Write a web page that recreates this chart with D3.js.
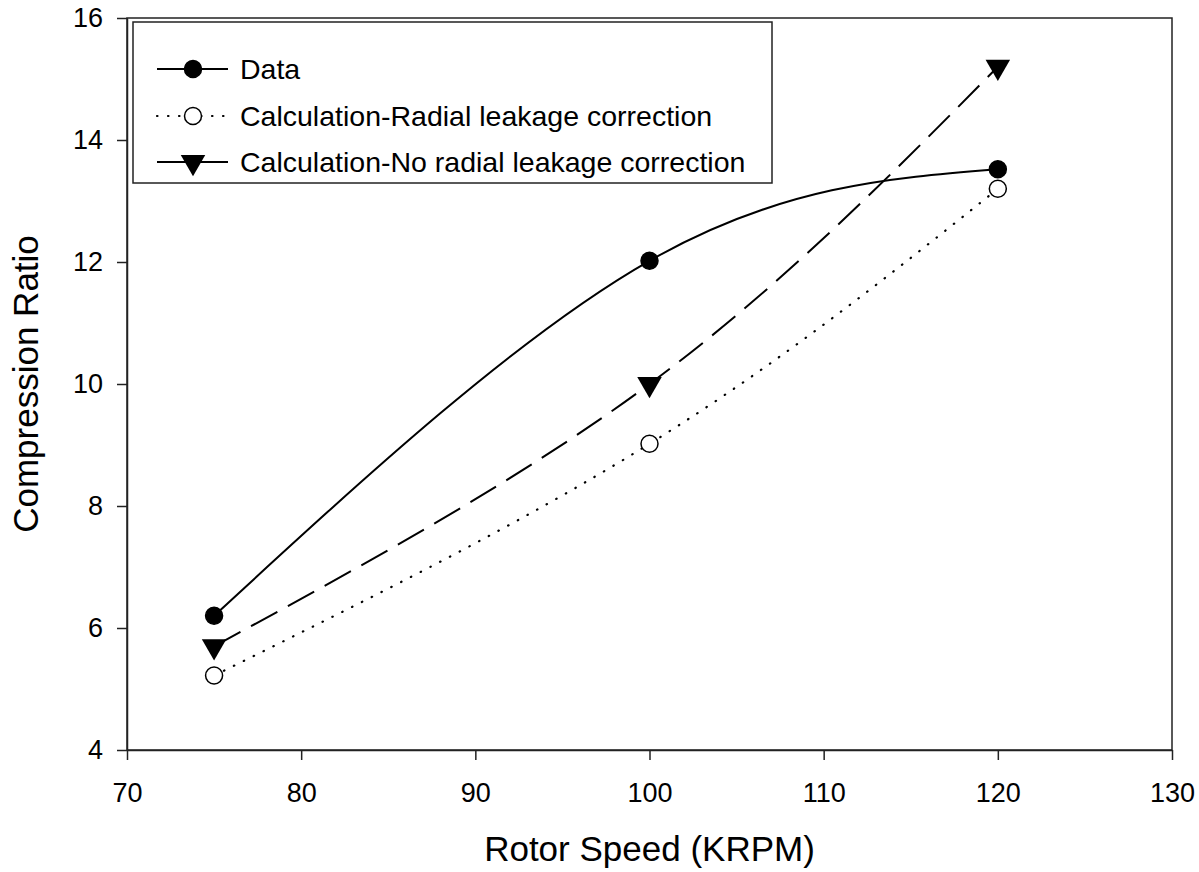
<!DOCTYPE html>
<html>
<head>
<meta charset="utf-8">
<script src="https://cdn.jsdelivr.net/npm/d3@7"></script>
<style>
  body { margin: 0; background: #fff; }
  text { font-family: "Liberation Sans", Arial, sans-serif; }
</style>
</head>
<body>
<svg id="chart"></svg>
<script>
// rotor speed (KRPM)
const speeds = [75, 100, 120];
// compression ratio series
const dataVals = [6.2, 12.02, 13.52];
const radialVals = [5.22, 9.02, 13.2];
const noRadialVals = [5.7, 10.0, 15.2];

const xTicks = [70, 80, 90, 100, 110, 120, 130];
const yTicks = [4, 6, 8, 10, 12, 14, 16];

const legendLabels = [
  "Data",
  "Calculation-Radial leakage correction",
  "Calculation-No radial leakage correction"
];

const W = 1199, H = 872;
const m = {left: 127, right: 1172, top: 18, bottom: 750};

const svg = d3.select("#chart")
  .attr("width", W)
  .attr("height", H)
  .attr("viewBox", [0, 0, W, H]);

const x = d3.scaleLinear().domain([70, 130]).range([m.left, m.right]);
const y = d3.scaleLinear().domain([4, 16]).range([m.bottom, m.top]);

// frame
svg.append("rect")
  .attr("x", m.left).attr("y", m.top)
  .attr("width", m.right - m.left).attr("height", m.bottom - m.top)
  .attr("fill", "none").attr("stroke", "#222").attr("stroke-width", 1.5);

const xAxis = svg.append("g")
  .attr("transform", `translate(0,${m.bottom})`)
  .call(d3.axisBottom(x).tickValues(xTicks).tickSize(10).tickPadding(23).tickSizeOuter(0));
const yAxis = svg.append("g")
  .attr("transform", `translate(${m.left},0)`)
  .call(d3.axisLeft(y).tickValues(yTicks).tickSize(10).tickPadding(14).tickSizeOuter(0));

[xAxis, yAxis].forEach(a => {
  a.select(".domain").attr("stroke", "#222").attr("stroke-width", 1.5);
  a.selectAll(".tick line").attr("stroke", "#222").attr("stroke-width", 1.5);
  a.selectAll(".tick text").attr("font-size", 27).attr("fill", "#000")
    .style("font-family", "'Liberation Sans', Arial, sans-serif");
});

// axis titles
svg.append("text")
  .attr("x", (m.left + m.right) / 2).attr("y", 861)
  .attr("text-anchor", "middle").attr("font-size", 35)
  .text("Rotor Speed (KRPM)");
svg.append("text")
  .attr("transform", `translate(38,${(m.top + m.bottom) / 2}) rotate(-90)`)
  .attr("text-anchor", "middle").attr("font-size", 35)
  .text("Compression Ratio");

const series = [
  {vals: dataVals, dash: null, marker: "filled"},
  {vals: radialVals, dash: "0.5,10.5", marker: "open"},
  {vals: noRadialVals, dash: "30,12", marker: "tri"}
];

const line = d3.line()
  .x((d, i) => x(speeds[i]))
  .y(d => y(d))
  .curve(d3.curveNatural);

const tri = d3.symbol().type(d3.symbolTriangle).size(260);

function drawMarker(g, kind, cx, cy) {
  if (kind === "tri") {
    g.append("path").attr("d", tri())
      .attr("transform", `translate(${cx},${cy}) rotate(180)`)
      .attr("fill", "#000");
  } else {
    g.append("circle").attr("cx", cx).attr("cy", cy).attr("r", 8.5)
      .attr("fill", kind === "filled" ? "#000" : "#fff")
      .attr("stroke", "#000").attr("stroke-width", 1.5);
  }
}

series.forEach((s, i) => {
  svg.append("path")
    .attr("d", line(s.vals))
    .attr("fill", "none").attr("stroke", "#000")
    .attr("stroke-width", i === 1 ? 2.2 : 2)
    .attr("stroke-linecap", i === 1 ? "round" : "butt")
    .attr("stroke-dasharray", s.dash);
  const g = svg.append("g");
  s.vals.forEach((v, j) => drawMarker(g, s.marker, x(speeds[j]), y(v)));
});

// legend
const lg = svg.append("g");
lg.append("rect")
  .attr("x", 133).attr("y", 22).attr("width", 639).attr("height", 161)
  .attr("fill", "#fff").attr("stroke", "#222").attr("stroke-width", 1.5);

const legendY = [69, 116, 162];
legendLabels.forEach((lab, i) => {
  const s = series[i];
  const yy = legendY[i];
  lg.append("line")
    .attr("x1", 157).attr("x2", 228).attr("y1", yy).attr("y2", yy)
    .attr("stroke", "#000").attr("stroke-width", i === 1 ? 2.2 : 2)
    .attr("stroke-linecap", i === 1 ? "round" : "butt")
    .attr("stroke-dasharray", i === 1 ? "0.5,10.5" : null);
  drawMarker(lg, s.marker, 193, yy);
  lg.append("text")
    .attr("x", 240).attr("y", yy).attr("dy", "0.35em")
    .attr("font-size", 28.5)
    .text(lab);
});
</script>
</body>
</html>
